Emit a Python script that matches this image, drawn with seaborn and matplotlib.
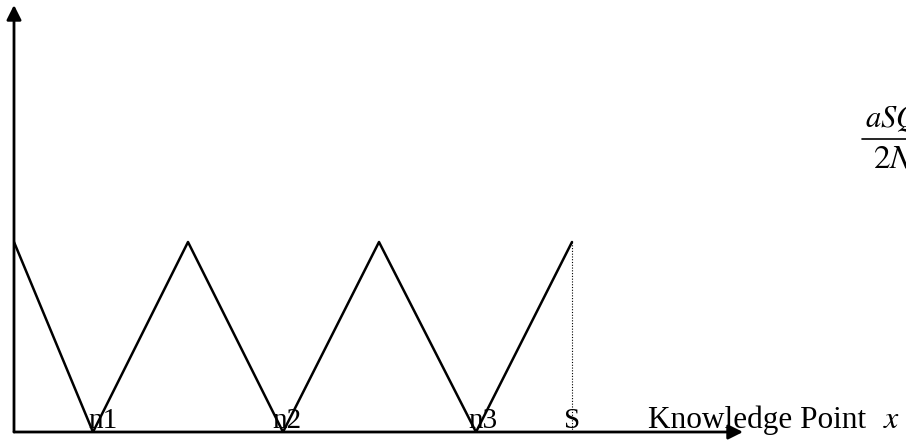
import matplotlib
matplotlib.use("Agg")
import matplotlib.pyplot as plt
import seaborn as sns
import pandas as pd

# Triangle wave of the knowledge points (x in axis units, y relative to peak)
wave_x = [0, 79, 174, 269, 365, 462, 558]
wave_y = [1, 0, 1, 0, 1, 0, 1]
point_names = ["n1", "n2", "n3", "S"]
point_x = [79, 269, 462, 558]
x_label = "Knowledge Point"
x_symbol = "$x$"
numerator = "$aSQ$"
denominator = "$2N$"

sns.set_theme(style="white")
plt.rcParams["font.family"] = ["Liberation Serif", "DejaVu Serif"]
plt.rcParams["mathtext.fontset"] = "stix"

fig = plt.figure(figsize=(9.06, 4.42), dpi=100)
ax = fig.add_axes([14 / 906, 10 / 442, 892 / 906, 427 / 442])
ax.set_xlim(0, 892)
ax.set_ylim(0, 427 / 190)
ax.axis("off")

df = pd.DataFrame({"x": wave_x, "y": wave_y})
sns.lineplot(data=df, x="x", y="y", color="black", linewidth=1.8, ax=ax,
             sort=False, estimator=None)

# dotted drop line at S
ax.plot([point_x[-1], point_x[-1]], [0, wave_y[-1]], color="black",
        linewidth=0.8, linestyle=(0, (1, 1.5)))

# axes with arrow heads
arrow = dict(arrowstyle="-|>", color="black", lw=2, mutation_scale=22,
             shrinkA=0, shrinkB=0)
ax.annotate("", xy=(0, 1), xytext=(0, 0), xycoords="axes fraction",
            arrowprops=arrow)
ax.annotate("", xy=((743 - 14) / 892, 0), xytext=(0, 0),
            xycoords="axes fraction", arrowprops=arrow)

offsets = [-5, -11, -8, -8]
for name, px, off in zip(point_names, point_x, offsets):
    ax.annotate(name, xy=(px, 0), xytext=(off, 4), textcoords="offset pixels",
                ha="left", va="baseline", fontsize=21, color="black")

ax.annotate(x_label, xy=(634, 0), xytext=(0, 4), textcoords="offset pixels",
            ha="left", va="baseline", fontsize=22.5, color="black")
ax.annotate(x_symbol, xy=(869, 0), xytext=(0, 4), textcoords="offset pixels",
            ha="left", va="baseline", fontsize=23, color="black")

# fraction at the right edge (cut by the figure border)
ax.text(851, 305 / 190, numerator, ha="left", va="baseline", fontsize=22,
        color="black")
ax.plot([848, 900], [293 / 190, 293 / 190], color="black", linewidth=1.2,
        clip_on=False)
ax.text(859, 265 / 190, denominator, ha="left", va="baseline", fontsize=24,
        color="black")

fig.savefig("out.png", dpi=100)
